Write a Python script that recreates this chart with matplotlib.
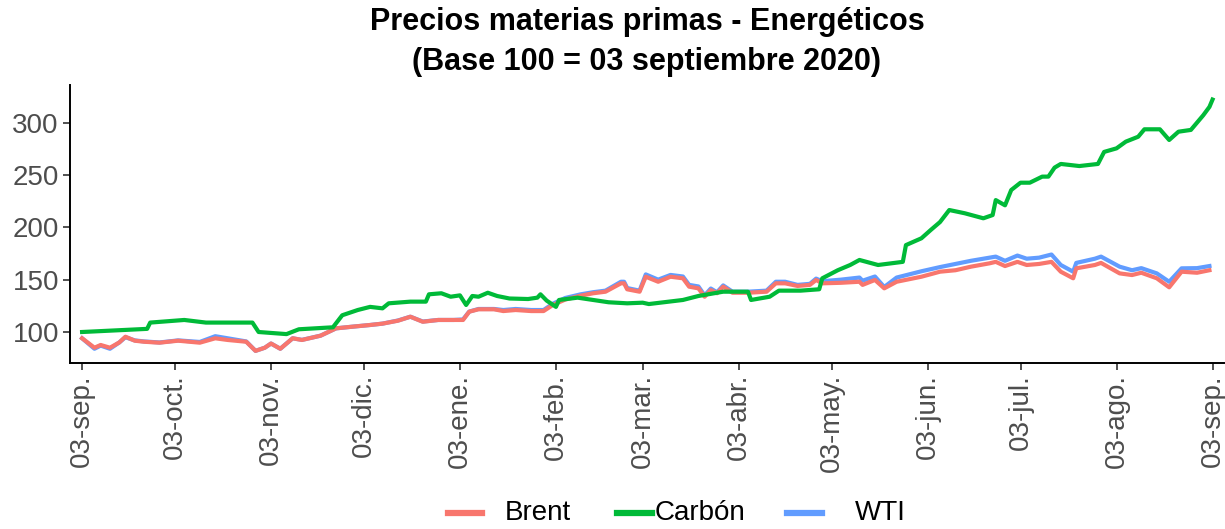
import matplotlib
matplotlib.use("Agg")
import matplotlib.pyplot as plt
import numpy as np
import pandas as pd
from matplotlib.lines import Line2D

plt.rcParams['font.family'] = ['Liberation Sans', 'DejaVu Sans']

# ---- data (days since 03-sep-2020, index base 100) ----
start_date = "2020-09-03"

brent_days = [0, 4, 6, 9, 12, 14, 17, 20, 25, 31, 38, 43, 47, 53, 56, 59, 61, 64, 68, 71,
              77, 82, 87, 93, 97, 102, 106, 110, 115, 120, 123, 125, 128, 133, 136, 140, 145, 149, 152, 156,
              161, 165, 169, 174, 175, 176, 180, 182, 186, 190, 194, 196, 199, 201, 203, 205, 207, 210, 215, 221,
              224, 227, 231, 235, 237, 239, 245, 251, 252, 256, 259, 263, 271, 277, 282, 287, 293, 295, 298, 302,
              305, 309, 313, 316, 320, 321, 327, 329, 335, 339, 342, 347, 351, 355, 360, 364]
brent = [94, 85, 87.6, 85, 90, 95.5, 91.7, 90.7, 89.8, 91.7, 89.8, 94, 92.4, 90.7, 82, 85, 89, 84, 94, 92.4,
         96.5, 103.5, 105, 106.7, 108, 110.8, 114.6, 109.8, 111.5, 111.5, 111.5, 119.4, 121.7, 121.7, 120, 121, 120, 120, 125.8, 131,
         134.7, 137, 138.5, 146.5, 146.5, 140.8, 138.5, 152.8, 148, 152.8, 151.3, 143.3, 141.7, 133.7, 140, 137, 143.3, 137.5, 137.5, 138.5,
         146.5, 146.5, 144, 145, 149.7, 146.5, 147, 148, 145, 149.7, 141.7, 148, 152.8, 157.6, 159, 162.4, 165.6, 167, 163, 167,
         164, 165, 167, 157.6, 151.3, 160.8, 164, 166, 156, 154.4, 156.6, 151.3, 142.7, 157.6, 156.6, 159]

wti_days = brent_days
wti = [94, 84, 87, 84, 90, 95, 92, 91, 90, 92, 90.5, 96, 94, 91, 82, 85, 89, 84, 94, 92.5,
       96.5, 103.5, 105, 106.7, 108, 111, 114.6, 110, 111.5, 111.5, 112, 119.5, 122, 122, 121, 122, 121, 121, 127, 132.5,
       136, 138, 139.5, 148, 148, 142, 139.5, 155, 150, 154.5, 153, 145, 143.5, 135, 141.5, 138, 144.5, 138.5, 138.5, 139.5,
       148, 148, 145, 146, 151, 148.5, 150, 152, 149, 153, 143, 152, 158, 162, 165, 168, 171, 172, 168, 173,
       170, 171, 174, 164, 157.6, 166, 170, 172, 162.4, 159, 161, 156, 148, 160.8, 161, 163]

carbon_days = [0, 21, 22, 33, 40, 55, 57, 66, 70, 81, 84, 89, 93, 97, 99, 106, 111, 112, 116, 119,
               122, 124, 126, 128, 131, 134, 138, 144, 147, 148, 150, 153, 154, 160, 165, 170, 176, 181, 183, 194,
               199, 207, 215, 216, 222, 225, 232, 238, 239, 244, 248, 251, 257, 265, 266, 271, 274, 277, 280, 285,
               291, 294, 295, 298, 300, 303, 306, 310, 312, 314, 316, 322, 328, 330, 334, 337, 341, 343, 348, 351,
               354, 358, 362, 364, 365]
carbon = [100, 103, 109, 111.5, 109, 109, 100, 98, 102.6, 104.5, 116, 121, 124, 122.6, 127.4, 129, 129, 136, 137, 133.7,
          135, 125.8, 134.4, 133.7, 137.5, 134.4, 132, 131.5, 132.8, 136, 130, 124, 130.6, 132.8, 130.6, 128.4, 127.4, 128, 126.7, 130.6,
          134.4, 138.5, 138.5, 130.6, 133.7, 139.5, 139.5, 140.8, 151.3, 159, 164, 168.8, 164, 167, 183, 189.5, 197.4, 205, 216.5, 213.4,
          208.6, 211.7, 226, 221, 235.6, 242.6, 242.6, 248.4, 248.4, 257, 260.5, 258.5, 260.5, 272, 275.4, 281.8, 286.5, 293.6, 293.6, 283.4,
          291.3, 293, 307, 315, 322]

tick_labels = ["03-sep.", "03-oct.", "03-nov.", "03-dic.", "03-ene.", "03-feb.", "03-mar.",
               "03-abr.", "03-may.", "03-jun.", "03-jul.", "03-ago.", "03-sep."]
y_ticks = [100, 150, 200, 250, 300]

series_names = ["Brent", "Carbón", "WTI"]
colors = {"Brent": "#F8766D", "Carbón": "#00BA38", "WTI": "#619CFF"}

# ---- figure ----
W, H = 1225, 529
fig = plt.figure(figsize=(W / 100, H / 100), dpi=100)
ax = fig.add_axes([70 / W, 1 - 363 / H, (1224 - 70) / W, (363 - 85) / H])

t0 = pd.Timestamp(start_date)
to_dates = lambda d: t0 + pd.to_timedelta(np.array(d), unit="D")

lw = 3.0
ax.plot(to_dates(wti_days), wti, color=colors["WTI"], lw=lw, solid_joinstyle="round")
ax.plot(to_dates(brent_days), brent, color=colors["Brent"], lw=lw, solid_joinstyle="round")
ax.plot(to_dates(carbon_days), carbon, color=colors["Carbón"], lw=lw, solid_joinstyle="round")

tick_dates = [t0 + pd.DateOffset(months=i) for i in range(len(tick_labels))]
ax.set_xticks(tick_dates)
ax.set_xticklabels(tick_labels, rotation=90, fontsize=20, color="#4D4D4D")
ax.set_xlim(t0 - pd.Timedelta(days=3.9), t0 + pd.Timedelta(days=368.7))

ax.set_yticks(y_ticks)
ax.set_yticklabels([str(v) for v in y_ticks], fontsize=20, color="#4D4D4D")
ax.set_ylim(70.4, 335.9)

for s in ["top", "right"]:
    ax.spines[s].set_visible(False)
for s in ["left", "bottom"]:
    ax.spines[s].set_linewidth(1.4)
    ax.spines[s].set_color("black")
ax.tick_params(axis="both", length=5, width=1.2, color="#333333", pad=3)

# title
cx = (70 + 1224) / 2 / W
fig.text(cx, 1 - 22 / H, "Precios materias primas - Energéticos", ha="center", va="center",
         fontsize=22, fontweight="bold")
fig.text(cx, 1 - 62 / H, "(Base 100 = 03 septiembre 2020)", ha="center", va="center",
         fontsize=22, fontweight="bold")

# legend (manual)
leg_y = 1 - 513 / H
leg_items = [("Brent", 448, 482, 505), ("Carbón", 617, 652, 655), ("WTI", 787, 822, 855)]
for name, x1, x2, xt in leg_items:
    fig.add_artist(Line2D([x1 / W, x2 / W], [leg_y, leg_y], color=colors[name], lw=4.5,
                          transform=fig.transFigure))
    fig.text(xt / W, leg_y, name, ha="left", va="center", fontsize=20, color="black")

fig.savefig("out.png", dpi=100)
